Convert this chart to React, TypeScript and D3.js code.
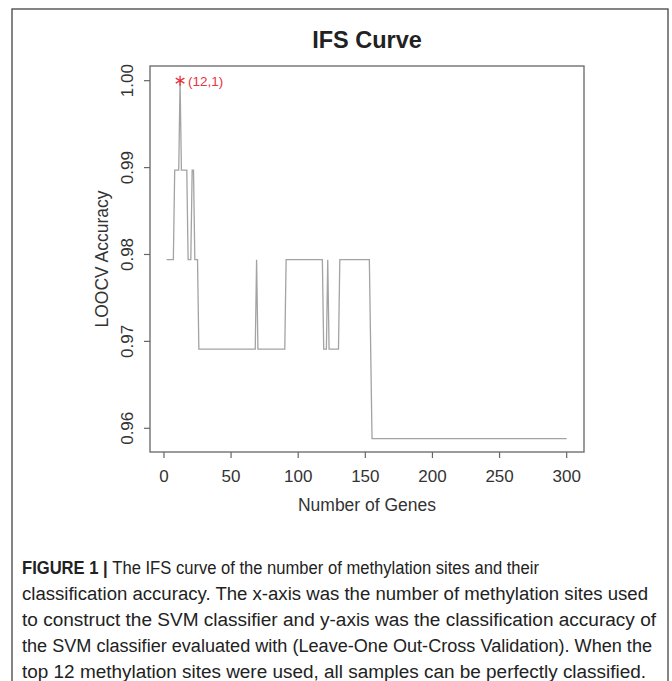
import React from "react";
import { scaleLinear, line as d3line, symbol, symbolAsterisk } from "d3";

// vertices of the IFS curve (number of genes, LOOCV accuracy)
const genes = [2, 7, 8, 11, 12, 13, 17, 18, 20, 21, 22, 23, 25, 26, 68, 69, 70, 90, 91, 118, 119, 121, 122, 123, 130, 131, 153, 155, 300];
const accuracy = [
  0.9794, 0.9794, 0.9897, 0.9897, 1.0, 0.9897, 0.9897, 0.9794, 0.9794, 0.9897, 0.9897, 0.9794, 0.9794, 0.9691,
  0.9691, 0.9794, 0.9691, 0.9691, 0.9794, 0.9794, 0.9691, 0.9691, 0.9794, 0.9691, 0.9691, 0.9794, 0.9794, 0.9588, 0.9588,
];
const bestPoint = { gene: 12, acc: 1.0, label: "(12,1)" };

const xTicks = [0, 50, 100, 150, 200, 250, 300];
const yTicks = [0.96, 0.97, 0.98, 0.99, 1.0];

const captionLines = [
  "The IFS curve of the number of methylation sites and their",
  "classification accuracy. The x-axis was the number of methylation sites used",
  "to construct the SVM classifier and y-axis was the classification accuracy of",
  "the SVM classifier evaluated with (Leave-One Out-Cross Validation). When the",
  "top 12 methylation sites were used, all samples can be perfectly classified.",
];
const captionWidths = [517, 626, 634, 630, 624];

const W = 672;
const H = 681;
const box = { left: 150, right: 584, top: 66, bottom: 452 };

export default function App() {
  const x = scaleLinear().domain([-10.4, 312.9]).range([box.left, box.right]);
  const y = scaleLinear().domain([0.95727, 1.00169]).range([box.bottom, box.top]);

  const pts = genes.map((g, i) => ({ g, a: accuracy[i] }));
  const path = d3line<{ g: number; a: number }>()
    .x((d) => x(d.g))
    .y((d) => y(d.a))(pts) ?? "";

  const star = symbol(symbolAsterisk, 70)() ?? "";
  const font = "'Liberation Sans', Arial, Helvetica, sans-serif";

  return (
    <svg
      width={W}
      height={H}
      style={{ position: "absolute", left: 0, top: 0, background: "#fff" }}
      fontFamily={font}
    >
      {/* figure frame */}
      <rect x={12} y={9} width={656} height={700} fill="none" stroke="#444" strokeWidth={1.3} />

      <text x={367} y={48} textAnchor="middle" fontSize={23.5} fontWeight="bold" fill="#222">
        IFS Curve
      </text>

      {/* plot box */}
      <rect
        x={box.left}
        y={box.top}
        width={box.right - box.left}
        height={box.bottom - box.top}
        fill="none"
        stroke="#666"
        strokeWidth={1.3}
      />

      {/* x axis */}
      {xTicks.map((t) => (
        <g key={t}>
          <line x1={x(t)} x2={x(t)} y1={box.bottom} y2={box.bottom + 6} stroke="#666" strokeWidth={1.2} />
          <text x={x(t)} y={482} textAnchor="middle" fontSize={17} fill="#333">
            {t}
          </text>
        </g>
      ))}
      <text x={367} y={511} textAnchor="middle" fontSize={17.5} fill="#333">
        Number of Genes
      </text>

      {/* y axis */}
      {yTicks.map((t) => (
        <g key={t}>
          <line x1={box.left - 6} x2={box.left} y1={y(t)} y2={y(t)} stroke="#666" strokeWidth={1.2} />
          <text
            transform={`translate(133,${y(t)}) rotate(-90)`}
            textAnchor="middle"
            fontSize={17}
            fill="#333"
          >
            {t.toFixed(2)}
          </text>
        </g>
      ))}
      <text
        transform={`translate(108,${(box.top + box.bottom) / 2}) rotate(-90)`}
        textAnchor="middle"
        fontSize={17.5}
        fill="#333"
      >
        LOOCV Accuracy
      </text>

      {/* curve */}
      <path d={path} fill="none" stroke="#a3a3a3" strokeWidth={1.3} />

      {/* best point */}
      <path
        d={star}
        transform={`translate(${x(bestPoint.gene)},${y(bestPoint.acc)})`}
        fill="none"
        stroke="#e8323f"
        strokeWidth={1.3}
      />
      <text x={x(bestPoint.gene) + 8} y={y(bestPoint.acc) + 5} fontSize={13.5} fill="#e8323f">
        {bestPoint.label}
      </text>

      {/* caption */}
      {captionLines.map((l, i) => (
        <text
          key={i}
          x={22}
          y={574 + i * 26}
          fontSize={18}
          fill="#222"
          textLength={captionWidths[i]}
          lengthAdjust="spacingAndGlyphs"
          fontFamily="'Liberation Sans Narrow', 'Liberation Sans', Arial, sans-serif"
        >
          {i === 0 ? (
            <>
              <tspan fontWeight="bold">FIGURE 1 | </tspan>
              {l}
            </>
          ) : (
            l
          )}
        </text>
      ))}
    </svg>
  );
}
